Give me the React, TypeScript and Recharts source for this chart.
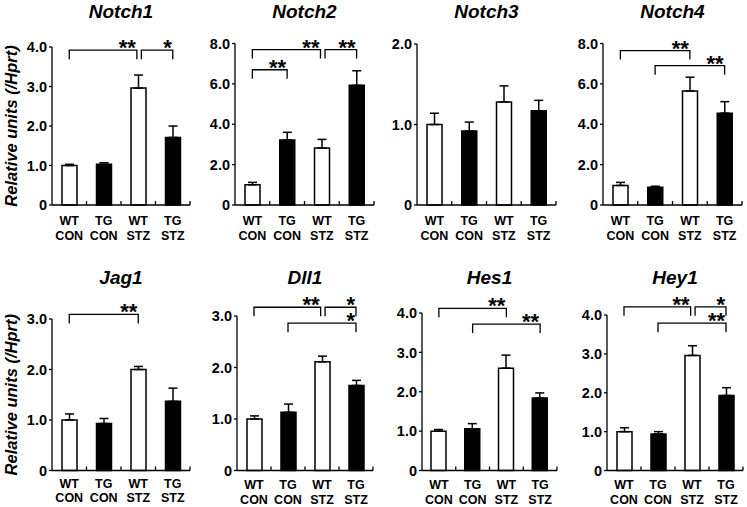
import React from "react";
import { BarChart, Bar, XAxis, YAxis, ErrorBar, Cell, ReferenceLine } from "recharts";

// ---- categories ----
const genotype = ["WT", "TG", "WT", "TG"];
const treatment = ["CON", "CON", "STZ", "STZ"];
const barFill = ["#ffffff", "#000000", "#ffffff", "#000000"];
const yAxisTitle = "Relative units (/Hprt)";

// ---- series values (mean, SEM) ----
const notch1Mean = [1.0, 1.03, 2.96, 1.71];
const notch1Err = [0.03, 0.04, 0.33, 0.29];
const notch2Mean = [1.0, 3.22, 2.82, 5.93];
const notch2Err = [0.12, 0.38, 0.43, 0.72];
const notch3Mean = [1.0, 0.92, 1.28, 1.17];
const notch3Err = [0.14, 0.11, 0.2, 0.13];
const notch4Mean = [0.97, 0.88, 5.65, 4.55];
const notch4Err = [0.15, 0.05, 0.68, 0.57];
const jag1Mean = [1.0, 0.93, 2.0, 1.37];
const jag1Err = [0.12, 0.1, 0.06, 0.26];
const dll1Mean = [1.0, 1.13, 2.11, 1.65];
const dll1Err = [0.06, 0.16, 0.11, 0.1];
const hes1Mean = [1.0, 1.06, 2.6, 1.84];
const hes1Err = [0.04, 0.13, 0.33, 0.13];
const hey1Mean = [1.0, 0.94, 2.96, 1.93];
const hey1Err = [0.1, 0.06, 0.25, 0.2];

// ---- y ticks ----
const notch1Ticks = [0, 1, 2, 3, 4];
const notch2Ticks = [0, 2, 4, 6, 8];
const notch3Ticks = [0, 1, 2];
const notch4Ticks = [0, 2, 4, 6, 8];
const jag1Ticks = [0, 1, 2, 3];
const dll1Ticks = [0, 1, 2, 3];
const hes1Ticks = [0, 1, 2, 3, 4];
const hey1Ticks = [0, 1, 2, 3, 4];

// ---- significance brackets: [from group pos, to group pos, level, label] ----
type Sig = [number, number, number, string];
const notch1Sig: Sig[] = [[1, 2.96, 3.92, "**"], [3.09, 4, 3.92, "*"]];
const notch2Sig: Sig[] = [[1, 2.96, 7.7, "**"], [3.09, 4, 7.7, "**"], [1, 2, 6.7, "**"]];
const notch3Sig: Sig[] = [];
const notch4Sig: Sig[] = [[1, 3, 7.65, "**"], [2, 4, 6.9, "**"]];
const jag1Sig: Sig[] = [[1, 3, 3.09, "**"]];
const dll1Sig: Sig[] = [[1, 2.96, 3.17, "**"], [3.09, 4, 3.17, "*"], [2, 4, 2.86, "*"]];
const hes1Sig: Sig[] = [[1, 3, 4.12, "**"], [2, 4, 3.72, "**"]];
const hey1Sig: Sig[] = [[1, 2.96, 4.21, "**"], [3.09, 4, 4.21, "*"], [2, 4, 3.79, "**"]];

const FONT = '"Liberation Sans", Arial, Helvetica, sans-serif';
const boundaries = [1.5, 2.5, 3.5, 4.5];

const fmt = (v: number) => (v === 0 ? "0" : v.toFixed(1));

function XTickMark(props: any) {
  const yb = Math.max(props.y1, props.y2);
  return <line x1={props.x1} x2={props.x1} y1={yb} y2={yb - 4} stroke="#000" strokeWidth={1.3} />;
}

function makeBracket(label: string) {
  return (props: any) => {
    const { x1, y1, x2, y2 } = props;
    const drop = 9;
    return (
      <g>
        <path d={`M${x1},${y1 + drop}V${y1}H${x2}V${y2 + drop}`} fill="none" stroke="#000" strokeWidth={1.3} />
        <text x={x2 - 1} y={y1 + 5} textAnchor="end" fontSize={22} fontWeight={700} fontFamily={FONT} fill="#000">
          {label}
        </text>
      </g>
    );
  };
}

interface PanelProps {
  title: string;
  mean: number[];
  err: number[];
  ticks: number[];
  sig: Sig[];
  x0: number;
  x1: number;
  top: number;
  bottom: number;
  rowTop: number;
  labelDy: [number, number];
  titleTop: number;
  yLabel?: boolean;
}

function Panel(p: PanelProps) {
  const yw = 50;
  const left = p.x0 - yw;
  const width = p.x1 + 3 - left;
  const height = p.bottom - p.rowTop + 45;
  const data = p.mean.map((m, i) => ({ pos: i + 1, mean: m, err: [0, p.err[i]] }));
  const max = p.ticks[p.ticks.length - 1];
  const yMid = (p.top + p.bottom) / 2 - p.rowTop;
  const labX = 17 - left;

  const catTick = (tp: any) => {
    const i = Math.round(tp.payload.value) - 1;
    return (
      <text x={tp.x} y={tp.y} textAnchor="middle" fontSize={12.5} fontWeight={700} fontFamily={FONT} fill="#000">
        <tspan x={tp.x} y={tp.y + p.labelDy[0]}>{genotype[i]}</tspan>
        <tspan x={tp.x} y={tp.y + p.labelDy[1]}>{treatment[i]}</tspan>
      </text>
    );
  };

  const yLab = () => (
    <text
      x={labX}
      y={yMid}
      transform={`rotate(-90 ${labX} ${yMid})`}
      textAnchor="middle"
      fontSize={16.5}
      fontWeight={700}
      fontStyle="italic"
      fontFamily={FONT}
      fill="#000"
    >
      {yAxisTitle}
    </text>
  );

  return (
    <>
      <div
        style={{
          position: "absolute",
          left: (p.x0 + p.x1) / 2 - 70,
          width: 140,
          top: p.titleTop,
          textAlign: "center",
          fontFamily: FONT,
          fontWeight: 700,
          fontStyle: "italic",
          fontSize: 19,
          lineHeight: "19px",
          color: "#000",
        }}
      >
        {p.title}
      </div>
      <div style={{ position: "absolute", left, top: p.rowTop, width, height }}>
        <BarChart
          width={width}
          height={height}
          data={data}
          margin={{ top: p.top - p.rowTop, right: 3, bottom: 0, left: 0 }}
        >
          <XAxis
            dataKey="pos"
            type="number"
            domain={[0.5, 4.5]}
            ticks={[1, 2, 3, 4]}
            interval={0}
            allowDataOverflow
            tickLine={false}
            tickSize={0}
            tickMargin={0}
            height={45}
            axisLine={{ stroke: "#000", strokeWidth: 1.3 }}
            tick={catTick}
          />
          <YAxis
            type="number"
            domain={[0, max]}
            ticks={p.ticks}
            interval={0}
            width={yw}
            tickSize={3}
            tickMargin={2}
            axisLine={{ stroke: "#000", strokeWidth: 1.3 }}
            tickLine={{ stroke: "#000", strokeWidth: 1.3 }}
            tick={{ fill: "#000", fontSize: 14.5, fontWeight: 700, fontFamily: FONT }}
            tickFormatter={fmt}
            label={p.yLabel ? { content: yLab } : undefined}
          />
          {boundaries.map((v) => (
            <ReferenceLine key={"b" + v} x={v} ifOverflow="visible" shape={XTickMark} />
          ))}
          <Bar dataKey="mean" barSize={15} isAnimationActive={false} stroke="#000" strokeWidth={1.5}>
            {data.map((d, i) => (
              <Cell key={i} fill={barFill[i]} />
            ))}
            <ErrorBar dataKey="err" direction="y" width={4.5} stroke="#000" strokeWidth={1.5} />
          </Bar>
          {p.sig.map((s, i) => (
            <ReferenceLine
              key={"s" + i}
              segment={[
                { x: s[0], y: s[2] },
                { x: s[1], y: s[2] },
              ]}
              ifOverflow="visible"
              shape={makeBracket(s[3])}
            />
          ))}
        </BarChart>
      </div>
    </>
  );
}

export default function App() {
  const topRow = { rowTop: 0, bottom: 205, labelDy: [19.5, 34.5] as [number, number], titleTop: 1.5 };
  const botRow = { rowTop: 250, bottom: 470.5, labelDy: [18.5, 33] as [number, number], titleTop: 267.5 };
  return (
    <div
      style={{
        position: "absolute",
        left: 0,
        top: 0,
        width: 747,
        height: 507,
        background: "#fff",
        overflow: "hidden",
      }}
    >
      <Panel title="Notch1" mean={notch1Mean} err={notch1Err} ticks={notch1Ticks} sig={notch1Sig} x0={52} x1={190} top={47} {...topRow} yLabel />
      <Panel title="Notch2" mean={notch2Mean} err={notch2Err} ticks={notch2Ticks} sig={notch2Sig} x0={235} x1={374} top={43.5} {...topRow} />
      <Panel title="Notch3" mean={notch3Mean} err={notch3Err} ticks={notch3Ticks} sig={notch3Sig} x0={417} x1={556} top={44} {...topRow} />
      <Panel title="Notch4" mean={notch4Mean} err={notch4Err} ticks={notch4Ticks} sig={notch4Sig} x0={603} x1={742} top={43.5} {...topRow} />
      <Panel title="Jag1" mean={jag1Mean} err={jag1Err} ticks={jag1Ticks} sig={jag1Sig} x0={52} x1={190} top={319} {...botRow} labelDy={[17, 31]} yLabel />
      <Panel title="Dll1" mean={dll1Mean} err={dll1Err} ticks={dll1Ticks} sig={dll1Sig} x0={237} x1={373} top={316} {...botRow} />
      <Panel title="Hes1" mean={hes1Mean} err={hes1Err} ticks={hes1Ticks} sig={hes1Sig} x0={422} x1={557} top={313} {...botRow} />
      <Panel title="Hey1" mean={hey1Mean} err={hey1Err} ticks={hey1Ticks} sig={hey1Sig} x0={607} x1={743} top={315} {...botRow} />
    </div>
  );
}
